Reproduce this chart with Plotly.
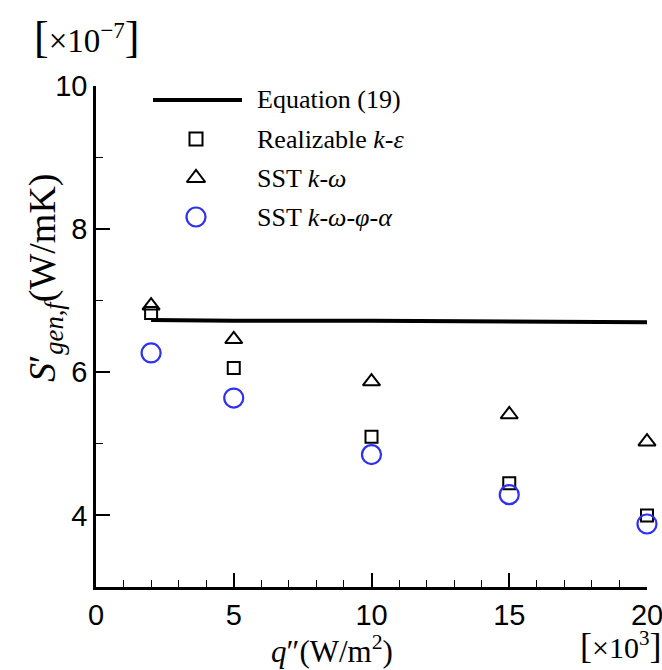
import plotly.graph_objects as go

# ---- data (x in 10^3 W/m2, y in 10^-7 W/mK) ----
q_flux = [2, 5, 10, 15, 20]
eq19 = [6.73, 6.72, 6.72, 6.71, 6.70]
realizable_ke = [6.83, 6.06, 5.10, 4.45, 4.00]
sst_kw = [6.93, 6.46, 5.87, 5.41, 5.03]
sst_kwpa = [6.27, 5.64, 4.85, 4.29, 3.88]

x_ticks = [0, 5, 10, 15, 20]
y_ticks = [4, 6, 8, 10]

legend_names = ["Equation (19)", "Realizable <i>k</i>-<i>ε</i>", "SST <i>k</i>-<i>ω</i>",
                "SST <i>k</i>-<i>ω</i>-<i>φ</i>-<i>α</i>"]

BLUE = "#2F2FF5"
SERIF = "Liberation Serif"
SANS = "Liberation Sans"

# plot area in pixels
L, R, T, B = 96, 647, 86, 587
W, H = 662, 670


def px(x):
    return (x - L) / (R - L)


def py(y):
    return (B - y) / (B - T)


fig = go.Figure()

fig.add_trace(go.Scatter(x=q_flux, y=eq19, mode="lines", cliponaxis=False,
                         line=dict(color="black", width=4), showlegend=False))
fig.add_trace(go.Scatter(x=q_flux, y=realizable_ke, mode="markers", cliponaxis=False,
                         marker=dict(symbol="square-open", size=12, color="black",
                                     line=dict(width=2, color="black")), showlegend=False))
fig.add_trace(go.Scatter(x=q_flux, y=sst_kw, mode="markers", cliponaxis=False,
                         marker=dict(symbol="triangle-up-open", size=15, color="black",
                                     line=dict(width=2, color="black")), showlegend=False))
fig.add_trace(go.Scatter(x=q_flux, y=sst_kwpa, mode="markers", cliponaxis=False,
                         marker=dict(symbol="circle-open", size=19, color=BLUE,
                                     line=dict(width=2.2, color=BLUE)), showlegend=False))

# ---- manual legend on a pixel overlay axis ----
leg_x_mark = 196
leg_rows = [100, 139, 178, 217]
fig.add_trace(go.Scatter(x=[153, 242], y=[leg_rows[0]] * 2, mode="lines",
                         line=dict(color="black", width=4), xaxis="x2", yaxis="y2",
                         showlegend=False))
fig.add_trace(go.Scatter(x=[leg_x_mark], y=[leg_rows[1]], mode="markers",
                         marker=dict(symbol="square-open", size=13, color="black",
                                     line=dict(width=2, color="black")),
                         xaxis="x2", yaxis="y2", showlegend=False))
fig.add_trace(go.Scatter(x=[leg_x_mark], y=[leg_rows[2]], mode="markers",
                         marker=dict(symbol="triangle-up-open", size=16, color="black",
                                     line=dict(width=2, color="black")),
                         xaxis="x2", yaxis="y2", showlegend=False))
fig.add_trace(go.Scatter(x=[leg_x_mark], y=[leg_rows[3]], mode="markers",
                         marker=dict(symbol="circle-open", size=19, color=BLUE,
                                     line=dict(width=2.2, color=BLUE)),
                         xaxis="x2", yaxis="y2", showlegend=False))

annotations = []
for name, yy in zip(legend_names, leg_rows):
    annotations.append(dict(x=px(255), y=py(yy), xref="paper", yref="paper", text=name,
                            showarrow=False, xanchor="left", yanchor="middle",
                            font=dict(family=SERIF, size=26, color="black")))

# axis titles
annotations.append(dict(x=px(45), y=py(278), xref="paper", yref="paper",
                        text="<i>S</i>′<sub><i>gen,f</i></sub>(W/mK)", textangle=-90,
                        showarrow=False, xanchor="center", yanchor="middle",
                        font=dict(family=SERIF, size=38, color="black")))
annotations.append(dict(x=px(332), y=py(649), xref="paper", yref="paper",
                        text="<i>q</i>″(W/m<sup>2</sup>)",
                        showarrow=False, xanchor="center", yanchor="middle",
                        font=dict(family=SERIF, size=31, color="black")))
# exponent labels
annotations.append(dict(x=px(32), y=py(38), xref="paper", yref="paper",
                        text='<span style="font-size:44px">[</span>×10<sup>−7</sup>'
                             '<span style="font-size:44px">]</span>',
                        showarrow=False, xanchor="left", yanchor="middle",
                        font=dict(family=SERIF, size=33, color="black")))
annotations.append(dict(x=px(578), y=py(646), xref="paper", yref="paper",
                        text='<span style="font-size:36px">[</span>×10<sup>3</sup>'
                             '<span style="font-size:36px">]</span>',
                        showarrow=False, xanchor="left", yanchor="middle",
                        font=dict(family=SERIF, size=30, color="black")))

axis_common = dict(showgrid=False, zeroline=False, showline=True, linecolor="black",
                   linewidth=2.5, ticks="inside", ticklen=14, tickwidth=2, tickcolor="black",
                   ticklabeloverflow="allow", automargin=False,
                   tickfont=dict(family=SANS, size=29, color="black"), mirror=False)

fig.update_layout(
    width=W, height=H,
    margin=dict(l=L, r=W - R, t=T, b=H - B, autoexpand=False),
    paper_bgcolor="white", plot_bgcolor="white",
    xaxis=dict(range=[0, 20], tickvals=x_ticks, ticktext=[str(v) for v in x_ticks],
               minor=dict(dtick=1, tick0=0, ticklen=7, tickwidth=1, tickcolor="black", ticks="inside"),
               **axis_common),
    yaxis=dict(range=[3, 10], tickvals=y_ticks, ticktext=[str(v) for v in y_ticks],
               minor=dict(dtick=1, tick0=0, ticklen=7, tickwidth=1, tickcolor="black", ticks="inside"),
               **axis_common),
    xaxis2=dict(range=[L, R], overlaying="x", visible=False, fixedrange=True),
    yaxis2=dict(range=[B, T], overlaying="y", visible=False, fixedrange=True),
    annotations=annotations,
)

fig.write_html("out.html")
